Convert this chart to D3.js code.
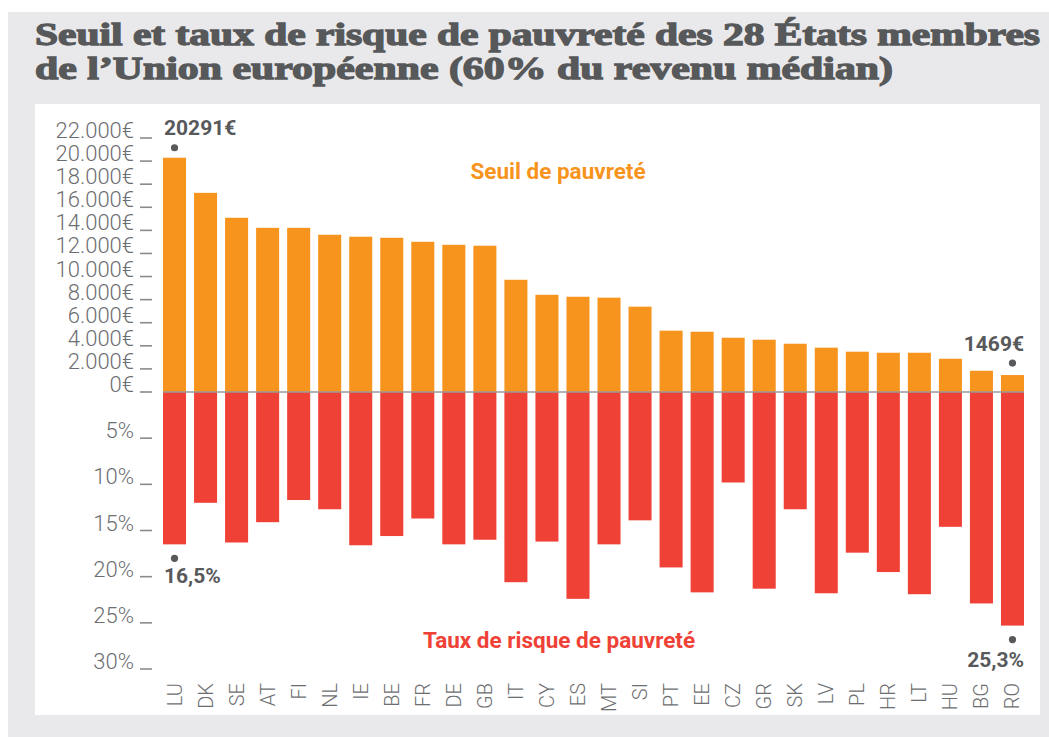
<!DOCTYPE html>
<html><head><meta charset="utf-8">
<script src="https://cdn.jsdelivr.net/npm/d3@7"></script>
<style>
html,body{margin:0;padding:0;background:#fff;}
svg{display:block;}
</style></head>
<body>
<svg id="chart" width="1049" height="737"></svg>
<script>
// ---- data ----
const countries = ["LU","DK","SE","AT","FI","NL","IE","BE","FR","DE","GB","IT","CY","ES","MT","SI","PT","EE","CZ","GR","SK","LV","PL","HR","LT","HU","BG","RO"];
const seuil = [20291,17250,15090,14220,14220,13620,13450,13360,13010,12750,12670,9720,8420,8250,8170,7390,5310,5220,4700,4530,4180,3840,3490,3400,3400,2880,1840,1469];
const taux = [16.5,12.0,16.3,14.1,11.7,12.7,16.6,15.6,13.7,16.5,16.0,20.6,16.2,22.4,16.5,13.9,19.0,21.7,9.8,21.3,12.7,21.8,17.4,19.5,21.9,14.6,22.9,25.3];
const moneyTicks = [0,2000,4000,6000,8000,10000,12000,14000,16000,18000,20000,22000];
const moneyTickLabels = ["0€","2.000€","4.000€","6.000€","8.000€","10.000€","12.000€","14.000€","16.000€","18.000€","20.000€","22.000€"];
const pctTicks = [5,10,15,20,25,30];
const pctTickLabels = ["5%","10%","15%","20%","25%","30%"];
const titleLines = ["Seuil et taux de risque de pauvreté des 28 États membres","de l’Union européenne (60% du revenu médian)"];
const legendSeuil = "Seuil de pauvreté";
const legendTaux = "Taux de risque de pauvreté";
const annFirstSeuil = "20291€", annLastSeuil = "1469€", annFirstTaux = "16,5%", annLastTaux = "25,3%";

// ---- styles ----
const ORANGE = "#f7941d", RED = "#ef4136", GREY_TXT = "#6d6e71", DARK = "#58595b";
const svg = d3.select("#chart");

// background
svg.append("rect").attr("x",0).attr("y",0).attr("width",1049).attr("height",737).attr("fill","#ffffff");
svg.append("rect").attr("x",8).attr("y",12).attr("width",1041).attr("height",725).attr("fill","#e9e9eb");
svg.append("rect").attr("x",35).attr("y",104).attr("width",1005).attr("height",611).attr("fill","#ffffff");

// title
const tw = [1005, 858];
const ty = [45, 79];
titleLines.forEach((t,i)=>{
  svg.append("text").attr("x",35).attr("y",ty[i])
    .attr("font-family","'Liberation Serif','DejaVu Serif',serif").attr("font-weight","bold")
    .attr("font-size",31).attr("fill","#57585a")
    .attr("stroke","#57585a").attr("stroke-width",1.3)
    .attr("textLength",tw[i]).attr("lengthAdjust","spacingAndGlyphs")
    .text(t);
});

// scales
const x = d3.scaleBand().domain(countries).range([159,1028]).paddingInner(0.258).paddingOuter(0.129);
const yM = d3.scaleLinear().domain([0,22000]).range([392,138]);
const yP = d3.scaleLinear().domain([0,30]).range([392,669]);

const g = svg.append("g");

// bars
g.selectAll("rect.s").data(countries).enter().append("rect")
  .attr("x",d=>x(d)).attr("width",x.bandwidth())
  .attr("y",(d,i)=>yM(seuil[i])).attr("height",(d,i)=>yM(0)-yM(seuil[i]))
  .attr("fill",ORANGE);
g.selectAll("rect.t").data(countries).enter().append("rect")
  .attr("x",d=>x(d)).attr("width",x.bandwidth())
  .attr("y",yP(0)).attr("height",(d,i)=>yP(taux[i])-yP(0))
  .attr("fill",RED);

// zero line
g.append("line").attr("x1",x(countries[0])).attr("x2",x(countries[countries.length-1])+x.bandwidth())
  .attr("y1",yM(0)).attr("y2",yM(0)).attr("stroke","#9a9a9c").attr("stroke-width",1.5);

// y axes (labels + underscore ticks)
function drawAxis(ticks, labels, scale){
  const ax = svg.append("g");
  ticks.forEach((v,i)=>{
    const yy = scale(v);
    ax.append("text").attr("x",134).attr("y",yy).attr("text-anchor","end")
      .attr("font-family","Roboto, sans-serif").attr("font-weight",300).attr("font-size",22)
      .attr("fill",GREY_TXT).text(labels[i]);
    ax.append("line").attr("x1",140).attr("x2",152).attr("y1",yy).attr("y2",yy)
      .attr("stroke","#8a8b8d").attr("stroke-width",1.6);
  });
}
drawAxis(moneyTicks, moneyTickLabels, yM);
drawAxis(pctTicks, pctTickLabels, yP);

// country labels
svg.append("g").selectAll("text").data(countries).enter().append("text")
  .attr("transform",d=>`translate(${x(d)+x.bandwidth()/2+7},683) rotate(-90)`)
  .attr("text-anchor","end")
  .attr("font-family","Roboto, sans-serif").attr("font-weight",300).attr("font-size",20)
  .attr("fill",GREY_TXT).text(d=>d);

// legend labels
svg.append("text").attr("x",558).attr("y",179).attr("text-anchor","middle")
  .attr("font-family","Roboto, sans-serif").attr("font-weight",700).attr("font-size",22.5)
  .attr("fill",ORANGE).text(legendSeuil);
svg.append("text").attr("x",559).attr("y",648).attr("text-anchor","middle")
  .attr("font-family","Roboto, sans-serif").attr("font-weight",700).attr("font-size",22.5)
  .attr("fill",RED).text(legendTaux);

// annotations
const n = countries.length;
const cx0 = x(countries[0])+x.bandwidth()/2, cxN = x(countries[n-1])+x.bandwidth()/2;
const ann = svg.append("g").attr("fill",DARK).attr("font-family","Roboto, sans-serif").attr("font-weight",700).attr("font-size",21);
ann.append("circle").attr("cx",cx0).attr("cy",yM(seuil[0])-10).attr("r",3.6);
ann.append("text").attr("x",x(countries[0])+1).attr("y",yM(seuil[0])-23).text(annFirstSeuil);
ann.append("circle").attr("cx",cx0).attr("cy",yP(taux[0])+14).attr("r",3.6);
ann.append("text").attr("x",x(countries[0])+1).attr("y",yP(taux[0])+39).text(annFirstTaux);
ann.append("circle").attr("cx",cxN).attr("cy",yM(seuil[n-1])-12).attr("r",3.6);
ann.append("text").attr("x",x(countries[n-1])+x.bandwidth()).attr("y",yM(seuil[n-1])-24).attr("text-anchor","end").text(annLastSeuil);
ann.append("circle").attr("cx",cxN).attr("cy",yP(taux[n-1])+14).attr("r",3.6);
ann.append("text").attr("x",x(countries[n-1])+x.bandwidth()).attr("y",yP(taux[n-1])+41).attr("text-anchor","end").text(annLastTaux);
</script>
</body></html>
